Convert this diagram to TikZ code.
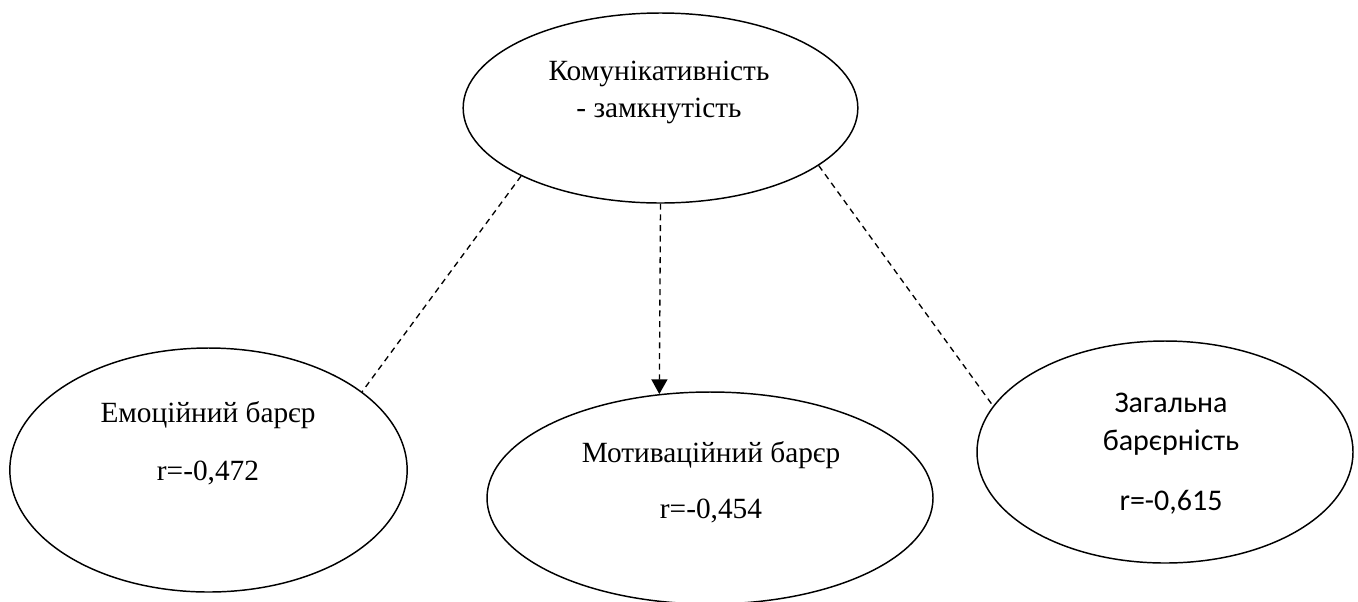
\documentclass[tikz,border=0pt]{standalone}
\usepackage{fontspec}
\setmainfont{Liberation Serif}
\newfontfamily\carlito{Carlito}
\usetikzlibrary{arrows.meta,shapes.geometric}

\begin{document}
\begin{tikzpicture}[x=0.75pt,y=-0.75pt,
      oval/.style={
        ellipse,
        draw,
        line width=1.1pt,
        inner sep=0pt
      },
      txt/.style={
        anchor=base,
        inner sep=0pt,
        font=\fontsize{22}{26}\selectfont
      },
      txtsans/.style={
        txt,
        font=\carlito\fontsize{22.5}{27}\selectfont
      },
      link/.style={
        line width=1pt,
        dash pattern=on 4.5pt off 3.5pt
      },
      >={Triangle[width=12pt,length=11pt]}
    ]
    \useasboundingbox (0,0) rectangle (1358,601);
    \node[oval,minimum width=296pt,minimum height=142.5pt] (top) at (660.5,108) {};
    \node[oval,minimum width=298pt,minimum height=183pt] (emo) at (208.5,470) {};
    \node[oval,minimum width=334.5pt,minimum height=159pt] (mot) at (710,498) {};
    \node[oval,minimum width=282pt,minimum height=166.5pt] (gen) at (1165,452) {};
    \node[txt] (top1) at (659,80) {Комунікативність};
    \node[txt] (top2) at (659,117) {- замкнутість};
    \node[txt] (emo1) at (208,422) {Емоційний барєр};
    \node[txt] (emo2) at (208,480) {r=-0,472};
    \node[txt] (mot1) at (711,462) {Мотиваційний барєр};
    \node[txt] (mot2) at (711,518) {r=-0,454};
    \node[txtsans] (gen1) at (1171,412) {Загальна};
    \node[txtsans] (gen2) at (1171,450) {барєрність};
    \node[txtsans] (gen3) at (1171,510) {r=-0,615};
    \draw[link] (top.206) -- (emo.27);
    \draw[link,->] (top.south) -- (mot.116);
    \draw[link] (top.-20) -- (gen.165);
  \end{tikzpicture}
\end{document}
